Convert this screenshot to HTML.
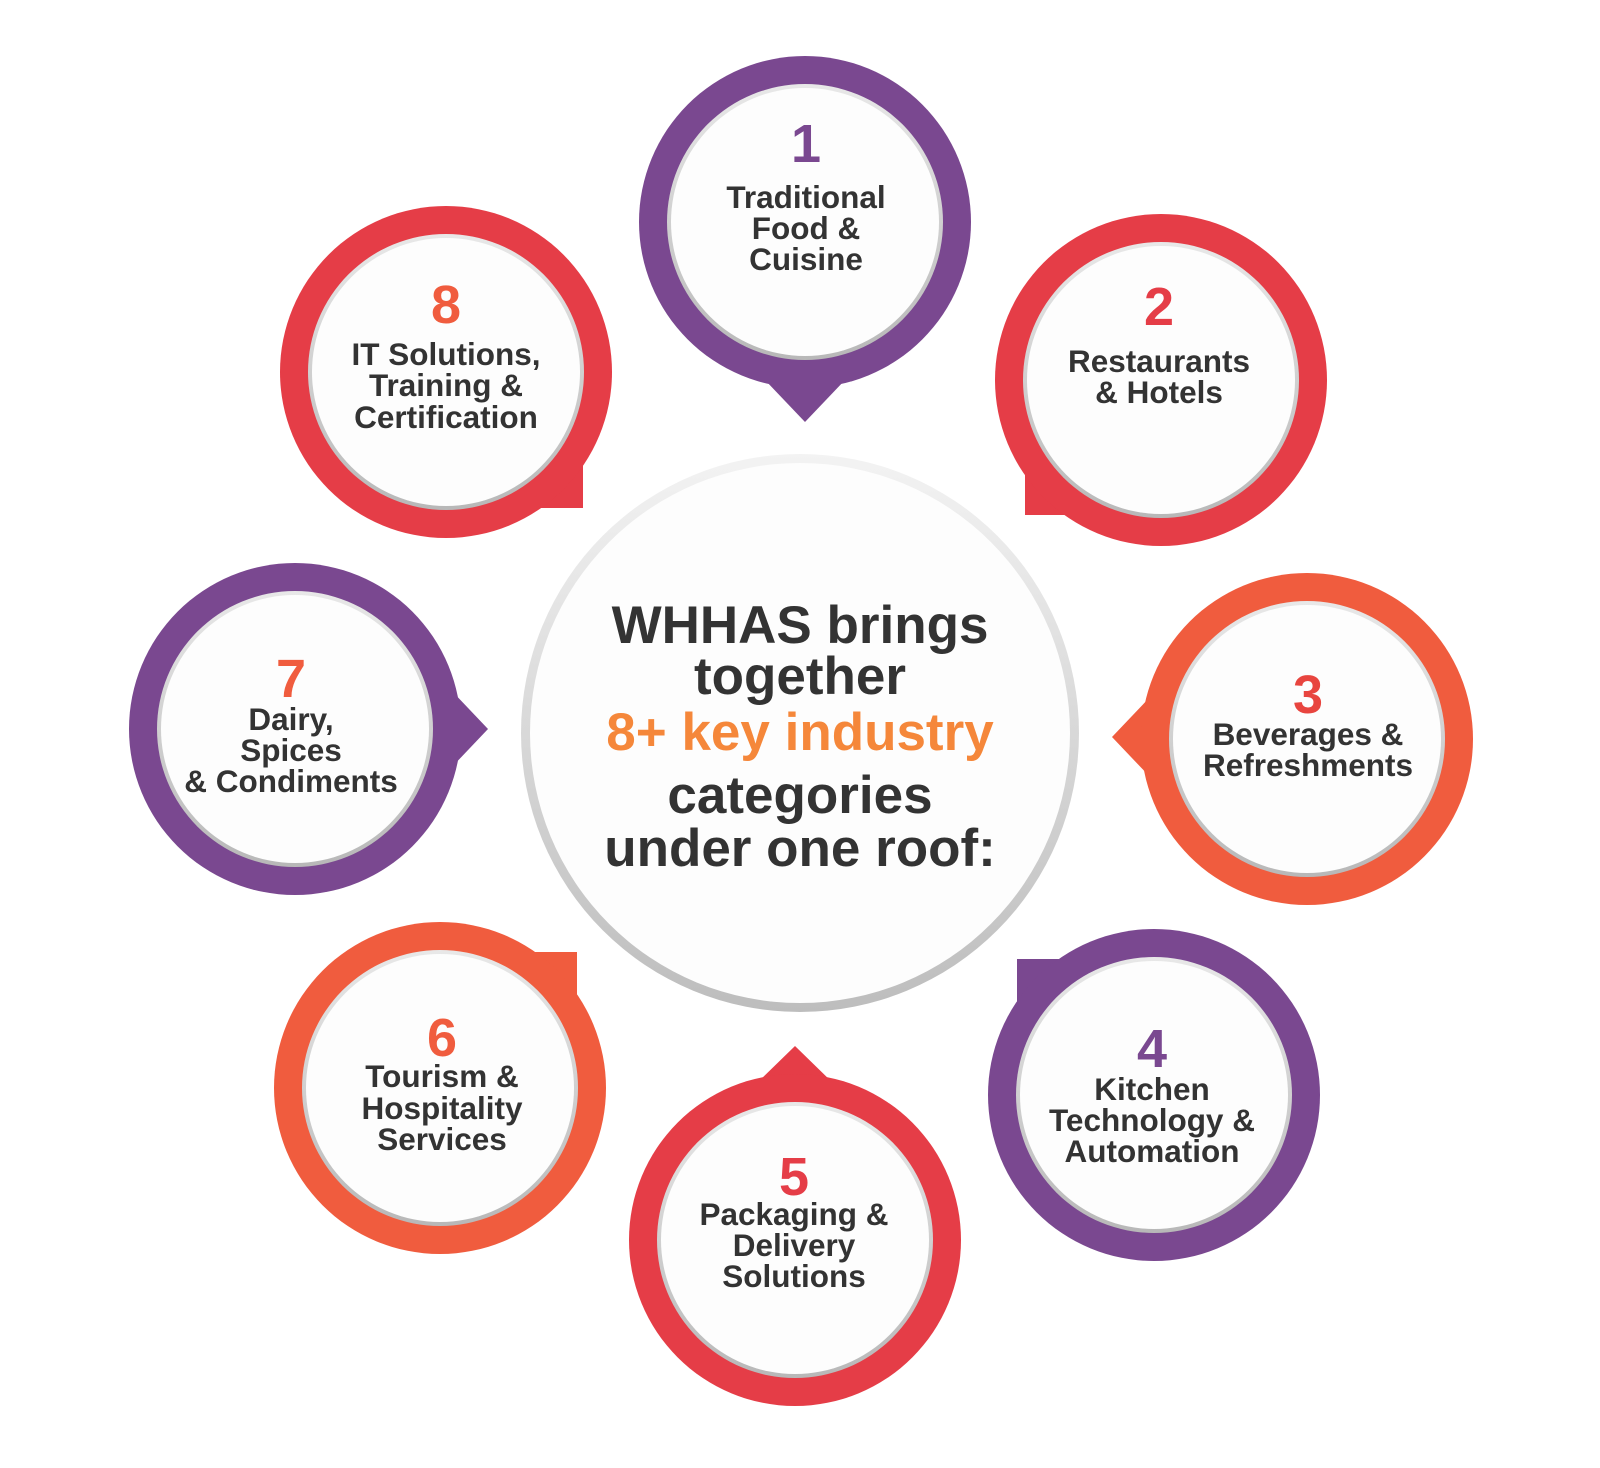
<!DOCTYPE html>
<html><head><meta charset="utf-8"><style>
html,body{margin:0;padding:0;background:#fff;}
svg{display:block;}
text{font-family:"Liberation Sans",sans-serif;font-weight:bold;text-anchor:middle;}
.l{font-size:31.5px;fill:#333;}
.n{font-size:54px;}
.c{font-size:53px;fill:#333;}
</style></head><body>
<svg width="1600" height="1468" viewBox="0 0 1600 1468" xmlns="http://www.w3.org/2000/svg">
<defs>
<linearGradient id="cg" x1="0" y1="0" x2="0" y2="1">
<stop offset="0" stop-color="#f3f3f3"/><stop offset="1" stop-color="#bdbdbd"/>
</linearGradient>
<linearGradient id="ig" x1="0" y1="0" x2="0" y2="1">
<stop offset="0" stop-color="#e8e8e8"/><stop offset="1" stop-color="#b8b8b8"/>
</linearGradient>
</defs>
<circle cx="800" cy="733" r="279" fill="url(#cg)"/>
<circle cx="800" cy="733" r="270" fill="#fdfdfd"/>
<text class="c" x="800" y="643">WHHAS brings</text>
<text class="c" x="800" y="694">together</text>
<text class="c" x="800" y="750" style="fill:#f5873a">8+ key industry</text>
<text class="c" x="800" y="813">categories</text>
<text class="c" x="800" y="866">under one roof:</text>

<polygon points="765,380 845,380 805,422" fill="#7a4890"/>
<circle cx="805" cy="222" r="166" fill="#7a4890"/>
<circle cx="805" cy="222" r="138" fill="url(#ig)"/>
<circle cx="805" cy="222" r="134" fill="#fdfdfd"/>
<text class="n" x="806" y="162" fill="#7a4890">1</text>
<text class="l" x="806" y="208">Traditional</text>
<text class="l" x="806" y="239">Food &amp;</text>
<text class="l" x="806" y="270">Cuisine</text>

<rect x="1025" y="380" width="136" height="135" fill="#e53d47"/>
<circle cx="1161" cy="380" r="166" fill="#e53d47"/>
<circle cx="1161" cy="380" r="138" fill="url(#ig)"/>
<circle cx="1161" cy="380" r="134" fill="#fdfdfd"/>
<text class="n" x="1159" y="325" fill="#e53d47">2</text>
<text class="l" x="1159" y="372">Restaurants</text>
<text class="l" x="1159" y="403">&amp; Hotels</text>

<polygon points="1150,697 1150,777 1112,737" fill="#f05c3e"/>
<circle cx="1307" cy="739" r="166" fill="#f05c3e"/>
<circle cx="1307" cy="739" r="138" fill="url(#ig)"/>
<circle cx="1307" cy="739" r="134" fill="#fdfdfd"/>
<text class="n" x="1308" y="713" fill="#e8453f">3</text>
<text class="l" x="1308" y="745">Beverages &amp;</text>
<text class="l" x="1308" y="776">Refreshments</text>

<rect x="1017" y="959" width="137" height="136" fill="#7a4890"/>
<circle cx="1154" cy="1095" r="166" fill="#7a4890"/>
<circle cx="1154" cy="1095" r="138" fill="url(#ig)"/>
<circle cx="1154" cy="1095" r="134" fill="#fdfdfd"/>
<text class="n" x="1152" y="1067" fill="#7a4890">4</text>
<text class="l" x="1152" y="1100">Kitchen</text>
<text class="l" x="1152" y="1131">Technology &amp;</text>
<text class="l" x="1152" y="1162">Automation</text>

<polygon points="755,1085 835,1085 795,1046" fill="#e53d47"/>
<circle cx="795" cy="1240" r="166" fill="#e53d47"/>
<circle cx="795" cy="1240" r="138" fill="url(#ig)"/>
<circle cx="795" cy="1240" r="134" fill="#fdfdfd"/>
<text class="n" x="794" y="1195" fill="#e53d47">5</text>
<text class="l" x="794" y="1225">Packaging &amp;</text>
<text class="l" x="794" y="1256">Delivery</text>
<text class="l" x="794" y="1287">Solutions</text>

<rect x="440" y="952" width="137" height="136" fill="#f05c3e"/>
<circle cx="440" cy="1088" r="166" fill="#f05c3e"/>
<circle cx="440" cy="1088" r="138" fill="url(#ig)"/>
<circle cx="440" cy="1088" r="134" fill="#fdfdfd"/>
<text class="n" x="442" y="1056" fill="#f05c3e">6</text>
<text class="l" x="442" y="1087">Tourism &amp;</text>
<text class="l" x="442" y="1119">Hospitality</text>
<text class="l" x="442" y="1150">Services</text>

<polygon points="450,689 450,769 488,729" fill="#7a4890"/>
<circle cx="295" cy="729" r="166" fill="#7a4890"/>
<circle cx="295" cy="729" r="138" fill="url(#ig)"/>
<circle cx="295" cy="729" r="134" fill="#fdfdfd"/>
<text class="n" x="291" y="697" fill="#f05c3e">7</text>
<text class="l" x="291" y="730">Dairy,</text>
<text class="l" x="291" y="761">Spices</text>
<text class="l" x="291" y="792">&amp; Condiments</text>

<rect x="446" y="372" width="137" height="136" fill="#e53d47"/>
<circle cx="446" cy="372" r="166" fill="#e53d47"/>
<circle cx="446" cy="372" r="138" fill="url(#ig)"/>
<circle cx="446" cy="372" r="134" fill="#fdfdfd"/>
<text class="n" x="446" y="323" fill="#f05c3e">8</text>
<text class="l" x="446" y="365">IT Solutions,</text>
<text class="l" x="446" y="396">Training &amp;</text>
<text class="l" x="446" y="428">Certification</text>
</svg>
</body></html>
